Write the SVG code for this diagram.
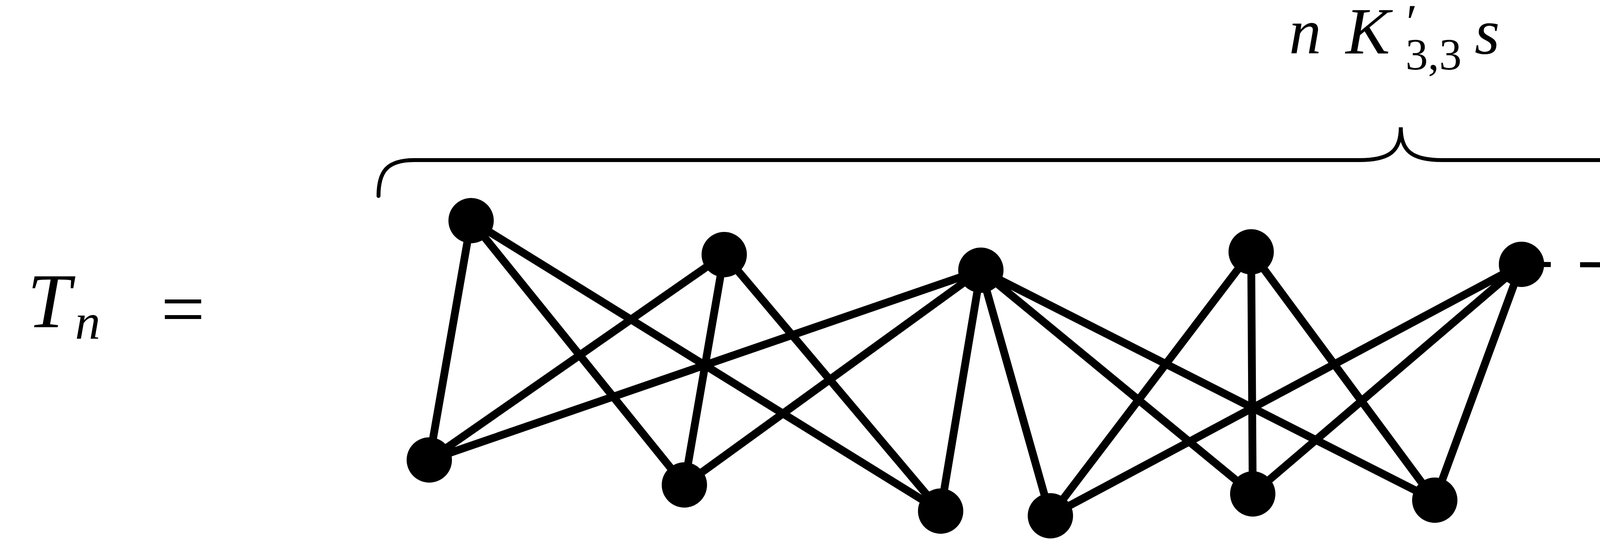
<svg xmlns="http://www.w3.org/2000/svg" width="6200" height="1383" viewBox="0 0 6200 1383">
<style>
.e{stroke:#000;stroke-width:20;fill:none;stroke-linecap:round}
.d{stroke:#000;stroke-width:13;fill:none;stroke-dasharray:75,75}
.n{fill:#000}
.t{font-family:"Liberation Serif",serif;font-style:italic;fill:#000}
.r{font-family:"Liberation Serif",serif;fill:#000}
</style>
<rect width="6200" height="1383" fill="#fff"/>
<text class="t" x="70" y="838" font-size="200">T</text>
<text class="t" x="192" y="868" font-size="130">n</text>
<text class="r" x="412" y="858" font-size="200">=</text>
<text class="t" x="3300" y="137" font-size="165">n</text>
<text class="t" x="3445" y="137" font-size="170">K</text>
<text class="r" x="3600" y="100" font-size="130">′</text>
<text class="r" x="3598" y="178" font-size="115">3,3</text>
<text class="t" x="3775" y="137" font-size="165">s</text>
<path class="e" style="stroke-width:10" d="M969,502 C969,440 990,410 1060,410 L3480,410 C3560,410 3586,385 3586,326 C3586,385 3612,410 3692,410 L6120,410 C6180,410 6188,440 6188,502"/>
<g id="connectors">
<path class="e" d="M1206,565L1099,1178M1206,565L1752,1242M1206,565L2408,1309M1854,652L1099,1178M1854,652L1752,1242M1854,652L2408,1309M2511,692L1099,1178M2511,692L1752,1242M2511,692L2408,1309"/>
<path class="e" d="M2511,692L2689,1321M2511,692L3207,1265M2511,692L3673,1281M3203,645L2689,1321M3203,645L3207,1265M3203,645L3673,1281M3895,677L2689,1321M3895,677L3207,1265M3895,677L3673,1281"/>
<path class="e" d="M4747,682L4923,1301M4747,682L5382,1273M4747,682L5828,1289M5401,672L4923,1301M5401,672L5382,1273M5401,672L5828,1289M6061,629L4923,1301M6061,629L5382,1273M6061,629L5828,1289"/>
<path class="d" d="M3895,677L4747,682"/>
</g>
<g id="A"><circle class="n" cx="1206" cy="565" r="58"/></g>
<g id="B"><circle class="n" cx="1099" cy="1178" r="58"/></g>
<g id="C"><circle class="n" cx="1854" cy="652" r="58"/></g>
<g id="D"><circle class="n" cx="1752" cy="1242" r="58"/></g>
<g id="E"><circle class="n" cx="2511" cy="692" r="58"/></g>
<g id="F"><circle class="n" cx="2408" cy="1309" r="58"/></g>
<g id="G"><circle class="n" cx="2689" cy="1321" r="58"/></g>
<g id="H"><circle class="n" cx="3203" cy="645" r="58"/></g>
<g id="I"><circle class="n" cx="3207" cy="1265" r="58"/></g>
<g id="J"><circle class="n" cx="3895" cy="677" r="58"/></g>
<g id="K"><circle class="n" cx="3673" cy="1281" r="58"/></g>
<g id="L"><circle class="n" cx="4747" cy="682" r="58"/></g>
<g id="M"><circle class="n" cx="4923" cy="1301" r="58"/></g>
<g id="N"><circle class="n" cx="5401" cy="672" r="58"/></g>
<g id="O"><circle class="n" cx="5382" cy="1273" r="58"/></g>
<g id="P"><circle class="n" cx="6061" cy="629" r="58"/></g>
<g id="Q"><circle class="n" cx="5828" cy="1289" r="58"/></g>
</svg>
